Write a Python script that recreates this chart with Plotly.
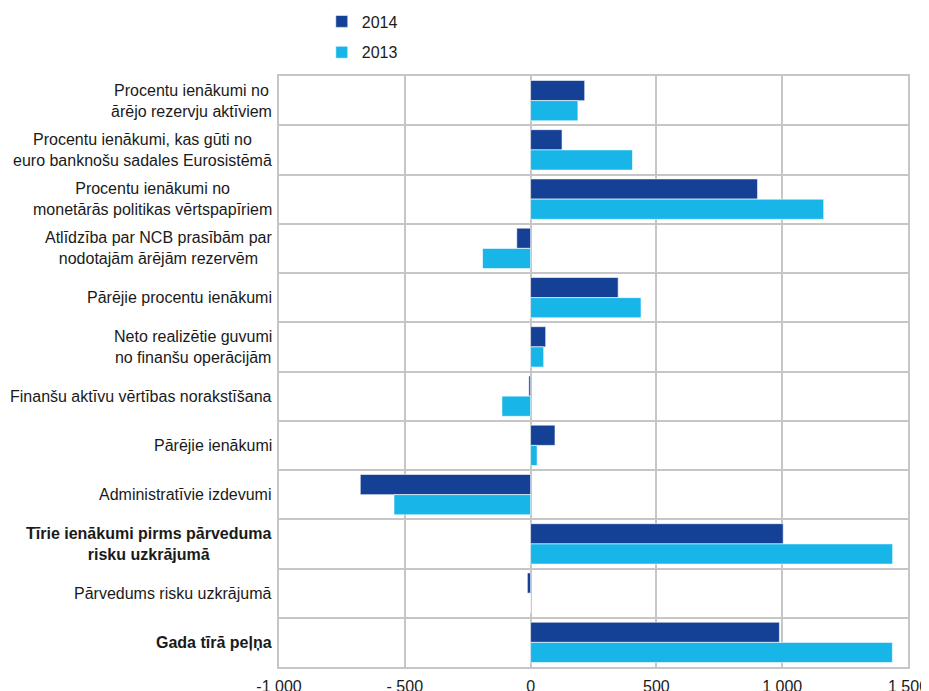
import plotly.graph_objects as go

categories = [
    "Procentu ienākumi no<br>ārējo rezervju aktīviem",
    "Procentu ienākumi, kas gūti no<br>euro banknošu sadales Eurosistēmā",
    "Procentu ienākumi no<br>monetārās politikas vērtspapīriem",
    "Atlīdzība par NCB prasībām par<br>nodotajām ārējām rezervēm",
    "Pārējie procentu ienākumi",
    "Neto realizētie guvumi<br>no finanšu operācijām",
    "Finanšu aktīvu vērtības norakstīšana",
    "Pārējie ienākumi",
    "Administratīvie izdevumi",
    "<b>Tīrie ienākumi pirms pārveduma<br>risku uzkrājumā</b>",
    "Pārvedums risku uzkrājumā",
    "<b>Gada tīrā peļņa</b>",
]
values_2014 = [215, 125, 902, -55, 348, 60, -7, 97, -677, 1004, -13, 989]
values_2013 = [188, 405, 1165, -191, 439, 52, -114, 26, -543, 1439, 0, 1438]

x_tickvals = [-1000, -500, 0, 500, 1000, 1500]
x_ticktext = ["-1 000", "- 500", "0", "500", "1 000", "1 500"]

positions = list(range(len(categories)))
boundaries = [p - 0.5 for p in positions] + [len(categories) - 0.5]

dark = "#144096"
light = "#17B5E8"
grid = "#c6c6c6"
FONT = "Liberation Sans, Arial, sans-serif"

fig = go.Figure()
fig.add_trace(go.Bar(
    y=positions, x=values_2014, orientation="h", name="2014",
    marker=dict(color=dark, line=dict(color="rgba(255,255,255,0.6)", width=1)),
    legendgroup="a",
))
fig.add_trace(go.Bar(
    y=positions, x=values_2013, orientation="h", name="2013",
    marker=dict(color=light, line=dict(color="rgba(255,255,255,0.6)", width=1)),
    legendgroup="b",
))

for pos, label in zip(positions, categories):
    fig.add_annotation(
        x=0, xref="paper", y=pos, yref="y",
        text=label, showarrow=False, xanchor="right", yanchor="middle",
        align="center", xshift=-5,
        font=dict(family=FONT, size=16, color="#1a1a1a"),
    )

fig.update_layout(
    width=929, height=683,
    margin=dict(l=271, r=29, t=68, b=24, autoexpand=False),
    paper_bgcolor="white", plot_bgcolor="white",
    barmode="group", bargap=0.18, bargroupgap=0,
    font=dict(family=FONT, size=16, color="#1a1a1a"),
    legend=dict(
        x=0.068, y=1.121, xanchor="left", yanchor="top",
        orientation="v", tracegroupgap=7,
        font=dict(size=16), bgcolor="rgba(0,0,0,0)",
        itemwidth=30,
    ),
    showlegend=True,
)
fig.update_xaxes(
    range=[-1000, 1500], tickvals=x_tickvals, ticktext=x_ticktext,
    showgrid=True, gridcolor=grid, gridwidth=1.5,
    zeroline=False, showline=True, linecolor=grid, linewidth=1.5, mirror=True,
    ticks="", tickfont=dict(size=16), ticklabelstandoff=4, automargin=False,
    ticklabeloverflow="allow",
)
fig.update_yaxes(
    range=[len(categories) - 0.5, -0.5],
    tickvals=positions, showticklabels=False,
    showgrid=False, zeroline=False,
    showline=True, linecolor=grid, linewidth=1.5, mirror=True,
    ticks="", automargin=False,
    minor=dict(tickvals=boundaries, showgrid=True, gridcolor=grid, gridwidth=1.5, ticks=""),
)

fig.write_html("out.html")
